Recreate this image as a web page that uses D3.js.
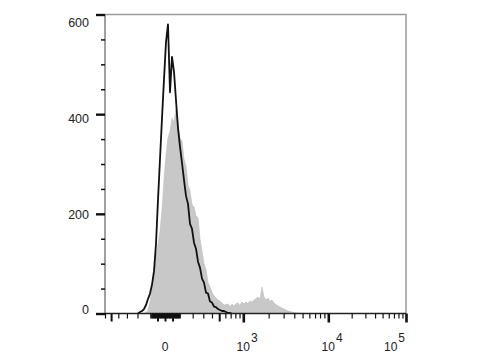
<html>
<script src="https://d3js.org/d3.v7.min.js"></script>
<style>
    body { margin: 0; background: #fff; }
    text { font-family: "Liberation Sans", Arial, sans-serif; fill: #222; }
</style>
<body>
<div id="chart"></div>
<script>
// histogram counts, one value per display channel (2 px bins)
var blackStart = 16;
var blackCounts = [0,3,5,9,17,29,40,58,85,140,228,310,392,470,545,580,444,515,485,428,
    372,335,302,268,236,220,180,170,142,130,104,92,70,62,42,40,24,22,14,13,9,7,5,5,3,1,1,0];
var grayStart = 19;
var grayCounts = [0,1,7,23,49,83,115,139,165,207,268,318,352,366,392,384,410,380,352,346,
    310,296,258,246,218,214,196,192,150,126,100,88,62,53,43,35,31,27,25,21,
    17,18,19,14,19,15,20,21,16,23,19,23,20,25,23,27,30,33,29,53,
    33,27,31,24,27,21,18,15,13,11,9,7,5,4,3,2,1,1,0];

// axis ticks and labels
var yMajor = [0, 200, 400, 600];
var yMinor = [50, 100, 150, 250, 300, 350, 450, 500, 550];
var xMajor = [1e3, 1e4, 1e5];
var xMid = [-500, -50, 0, 50, 500];
var xZero = [-90,-80,-70,-60,-40,-30,-20,-10,10,20,30,40,60,70,80,90];
var xMinor = [-600,-400,-300,-200,-100,100,200,300,400,600,700,800,900,
    2e3,3e3,4e3,5e3,6e3,7e3,8e3,9e3,2e4,3e4,4e4,5e4,6e4,7e4,8e4,9e4];
var xLabelValues = [0, 1e3, 1e4, 1e5];
var xLabelExp = ["", "3", "4", "5"];

var width = 480, height = 360;
var plotLeft = 105, plotRight = 406, plotTop = 14.5, plotBottom = 313.5;

var svg = d3.select("#chart").append("svg")
    .attr("width", width)
    .attr("height", height);

// biexponential-like display of the fluorescence axis
var biex = v => Math.asinh(v / 243);
var x = d3.scaleLinear()
    .domain([biex(-600), biex(0), biex(1e3), biex(1e4), biex(1e5)])
    .range([plotLeft, 165, 243.3, 328.3, plotRight]);
var xv = v => x(biex(v));

// channel scale for histogram bins
var xc = d3.scaleLinear().domain([0, 150.5]).range([plotLeft, plotRight]);
var y = d3.scaleLinear().domain([0, 600]).range([plotBottom, plotTop]);
var yLab = d3.scaleLinear().domain([0, 600]).range([310, 22.5]);

var grayData = grayCounts.map((c, i) => ({ ch: grayStart + i + 0.5, c: c }));
var blackData = blackCounts.map((c, i) => ({ ch: blackStart + i + 0.5, c: c }));

svg.append("path")
    .datum(grayData)
    .attr("fill", "#c8c8c8")
    .attr("stroke", "#bcbcbc")
    .attr("stroke-width", 0.6)
    .attr("d", d3.area().x(d => xc(d.ch)).y0(plotBottom).y1(d => y(d.c)));

svg.append("path")
    .datum(blackData)
    .attr("fill", "none")
    .attr("stroke", "#111")
    .attr("stroke-width", 1.8)
    .attr("stroke-linejoin", "round")
    .attr("d", d3.line().x(d => xc(d.ch)).y(d => y(d.c)));

// frame
svg.append("path")
    .attr("d", `M${plotLeft},${plotTop}H${plotRight}V${plotBottom}`)
    .attr("fill", "none")
    .attr("stroke", "#9a9a9a")
    .attr("stroke-width", 1.5);
svg.append("line")
    .attr("x1", plotLeft).attr("x2", plotLeft).attr("y1", plotTop).attr("y2", plotBottom)
    .attr("stroke", "#808080").attr("stroke-width", 1.5);
svg.append("line")
    .attr("x1", plotLeft).attr("x2", plotRight).attr("y1", plotBottom).attr("y2", plotBottom)
    .attr("stroke", "#222").attr("stroke-width", 1.6);

function tickAxis(axis, values, size, w) {
    var g = svg.append("g").call(axis.tickValues(values).tickSize(size).tickFormat(""));
    g.select(".domain").remove();
    g.selectAll("line").attr("stroke", "#111").attr("stroke-width", w);
    return g;
}

// y ticks
tickAxis(d3.axisLeft(y), yMajor, 9, 2.4).attr("transform", `translate(${plotLeft},0)`);
tickAxis(d3.axisLeft(y), yMinor, 4, 1.5).attr("transform", `translate(${plotLeft},0)`);

// x ticks (values mapped through the biex display)
function xTicks(values, size, w) {
    var s = v => xv(v);
    s.copy = () => s;
    s.range = () => [plotLeft, plotRight];
    s.domain = () => [-600, 1e5];
    var g = tickAxis(d3.axisBottom(s), values, size, w);
    g.attr("transform", `translate(0,${plotBottom})`);
}
xTicks(xMinor, 5, 1.2);
xTicks(xZero, 5, 2.2);
xTicks(xMid, 8, 2);
xTicks(xMajor, 9, 2.6);

// y labels
svg.selectAll(".ylab")
    .data(yMajor)
    .enter().append("text")
    .attr("x", 89)
    .attr("y", d => yLab(d))
    .attr("dy", "0.35em")
    .attr("text-anchor", "end")
    .style("font-size", "12.5px")
    .text(d => d);

// x labels with superscripts
xLabelValues.forEach((v, i) => {
    var t = svg.append("text")
        .attr("y", 350.5)
        .style("font-size", "12px");
    if (xLabelExp[i] === "") {
        t.attr("x", xv(v)).attr("text-anchor", "middle").text("0");
        return;
    }
    var last = i === xLabelValues.length - 1;
    t.attr("x", last ? xv(v) - 1 : xv(v) - 6.7)
        .attr("text-anchor", last ? "end" : "start");
    t.append("tspan").text("10");
    t.append("tspan").attr("dx", 1).attr("dy", -9).text(xLabelExp[i]);
});
</script>
</body>
</html>
